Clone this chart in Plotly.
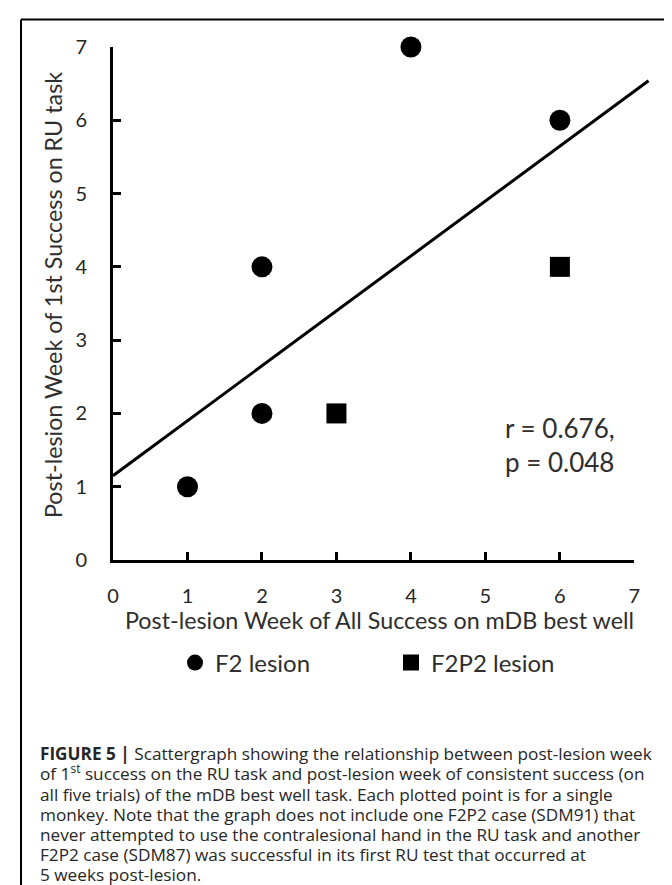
import plotly.graph_objects as go

# ---------------- data ----------------
f2_x = [1, 2, 2, 4, 6]
f2_y = [1, 2, 4, 7, 6]
f2p2_x = [3, 6]
f2p2_y = [2, 4]
fit_x = [0, 7.19]
fit_y = [1.15, 6.54]
x_ticks = [0, 1, 2, 3, 4, 5, 6, 7]
y_ticks = [0, 1, 2, 3, 4, 5, 6, 7]
stat_lines = ["r = 0.676,", "p = 0.048"]
x_title = "Post-lesion Week of All Success on mDB best well"
y_title = "Post-lesion Week of 1st Success on RU task"
caption_lines = [
    "<b>FIGURE 5 |</b> Scattergraph showing the relationship between post-lesion week",
    "of 1<sup>st</sup> success on the RU task and post-lesion week of consistent success (on",
    "all five trials) of the mDB best well task. Each plotted point is for a single",
    "monkey. Note that the graph does not include one F2P2 case (SDM91) that",
    "never attempted to use the contralesional hand in the RU task and another",
    "F2P2 case (SDM87) was successful in its first RU test that occurred at",
    "5 weeks post-lesion.",
]

# ---------------- layout geometry ----------------
W, H = 672, 885
L, T = 105, 39
PW, PH = 540, 513          # plot area 105..645 x 39..552
X_MAX = 7.0
X2_MAX = 7.25


def px(x):
    return (x - L) / PW


def py(y):
    return (T + PH - y) / PH


FONT = "Lato"
TXT = "#2e2e2e"

fig = go.Figure()

fig.add_trace(go.Scatter(
    x=f2_x, y=f2_y, mode="markers", name="F2 lesion",
    marker=dict(symbol="circle", size=21, color="black"),
    cliponaxis=False, xaxis="x", yaxis="y",
))
fig.add_trace(go.Scatter(
    x=f2p2_x, y=f2p2_y, mode="markers", name="F2P2 lesion",
    marker=dict(symbol="square", size=20, color="black"),
    cliponaxis=False, xaxis="x", yaxis="y",
))
fig.add_trace(go.Scatter(
    x=fit_x, y=fit_y, mode="lines", showlegend=False,
    line=dict(color="black", width=3),
    xaxis="x2", yaxis="y",
))

axis_common = dict(
    ticks="inside", ticklen=8, tickwidth=3, tickcolor="black",
    showline=True, linewidth=3, linecolor="black",
    showgrid=False, zeroline=False,
    tickfont=dict(family=FONT, size=20, color="#262626"),
    fixedrange=True,
)

fig.update_layout(
    width=W, height=H,
    margin=dict(l=L, r=W - L - PW, t=T, b=H - T - PH, pad=0),
    paper_bgcolor="white",
    plot_bgcolor="rgba(0,0,0,0)",
    xaxis=dict(domain=[0, X_MAX / X2_MAX], range=[0, X_MAX], tickvals=x_ticks,
               anchor="y", ticklabelstandoff=16, **axis_common),
    xaxis2=dict(domain=[0, 1], range=[0, X2_MAX], visible=False, anchor="y",
                fixedrange=True),
    yaxis=dict(domain=[0, 1], range=[0, 7], tickvals=y_ticks, anchor="x",
               ticklabelstandoff=19, **axis_common),
    showlegend=True,
    legend=dict(
        orientation="h", x=px(167), xanchor="left", y=py(655), yanchor="middle",
        font=dict(family=FONT, size=24, color=TXT),
        entrywidth=171, entrywidthmode="pixels",
        bgcolor="rgba(0,0,0,0)", borderwidth=0,
    ),
)

annotations = [
    dict(text=y_title, xref="paper", yref="paper", x=px(45), y=py(287),
         textangle=-90, showarrow=False, xanchor="center", yanchor="middle",
         font=dict(family=FONT, size=23.3, color=TXT)),
    dict(text=x_title, xref="paper", yref="paper", x=px(371), y=py(612),
         showarrow=False, xanchor="center", yanchor="middle",
         font=dict(family=FONT, size=23.3, color=TXT)),
    dict(text="<br>".join(stat_lines), xref="x", yref="y", x=5.24, y=1.57,
         showarrow=False, xanchor="left", yanchor="middle", align="left",
         font=dict(family=FONT, size=26, color=TXT)),
]

CAP_TOP = 745.0
CAP_STEP = 20.2
CAP_SIZE = 17.2
for i, line in enumerate(caption_lines):
    yc = CAP_TOP + i * CAP_STEP
    annotations.append(dict(
        text=line, xref="paper", yref="paper", x=px(30), y=py(yc + 14.2),
        showarrow=False, xanchor="left", yanchor="bottom", align="left",
        font=dict(family="Open Sans", size=CAP_SIZE, color="#262626"),
    ))

fig.update_layout(annotations=annotations)

shapes = [
    dict(type="line", xref="paper", yref="paper", x0=px(13), x1=px(670),
         y0=py(11.5), y1=py(11.5), line=dict(color="black", width=2)),
    dict(type="line", xref="paper", yref="paper", x0=px(13), x1=px(13),
         y0=py(11.5), y1=py(895), line=dict(color="black", width=2)),
    dict(type="line", xref="paper", yref="paper", x0=px(670.5), x1=px(670.5),
         y0=py(10.5), y1=py(895), line=dict(color="#8a8a8a", width=3)),
]
fig.update_layout(shapes=shapes)

fig.write_html("out.html")
